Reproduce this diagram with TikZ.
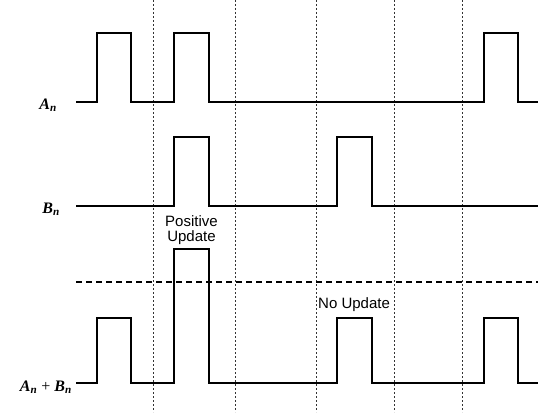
\documentclass[tikz,border=0pt]{standalone}
\usepackage{fontspec}
\setmainfont{Liberation Serif}
\setsansfont{Liberation Sans}
\begin{document}
\begin{tikzpicture}[x=1pt,y=-1pt,
  signal/.style={line width=2.4pt,line join=miter},
  grid/.style={line width=0.7pt,dash pattern=on 2pt off 2pt,black!80},
  thresh/.style={line width=1.6pt,dash pattern=on 6pt off 4pt},
  lbl/.style={font=\fontsize{16}{18}\selectfont\bfseries\itshape,inner sep=0pt,anchor=base east},
  note/.style={font=\sffamily\fontsize{15}{15.5}\selectfont,inner sep=0pt,align=center}]
\useasboundingbox (0,0) rectangle (538,420);
% vertical dotted guides
\foreach \x [count=\i] in {153,235,316,394,462}{
  \coordinate (gt\i) at (\x,0);
  \coordinate (gb\i) at (\x,412);
  \draw[grid] (gt\i) -- (gb\i);
}
% threshold
\coordinate (th1) at (76,282);
\coordinate (th2) at (538,282);
\draw[thresh] (th1) -- (th2);
% labels
\node[lbl] (la) at (57,109) {A\textsubscript{n}};
\node[lbl] (lb) at (60,213) {B\textsubscript{n}};
\node[lbl] (ls) at (72,391) {A\textsubscript{n} \textmd{\upshape +} B\textsubscript{n}};
% signals
\draw[signal] (76,102) -- (97,102) -- (97,33) -- (131,33) -- (131,102) -- (174,102) -- (174,33) -- (209,33) -- (209,102) -- (484,102) -- (484,33) -- (518,33) -- (518,102) -- (538,102);
\draw[signal] (76,206) -- (174,206) -- (174,137) -- (209,137) -- (209,206) -- (337,206) -- (337,137) -- (372,137) -- (372,206) -- (538,206);
\draw[signal] (76,383) -- (97,383) -- (97,318) -- (131,318) -- (131,383) -- (174,383) -- (174,249) -- (209,249) -- (209,383) -- (337,383) -- (337,318) -- (372,318) -- (372,383) -- (484,383) -- (484,318) -- (518,318) -- (518,383) -- (538,383);
% notes
\node[note] (pu) at (191.5,230) {Positive\\Update};
\node[note,anchor=base west] (nu) at (318,308) {No Update};
\end{tikzpicture}
\end{document}
